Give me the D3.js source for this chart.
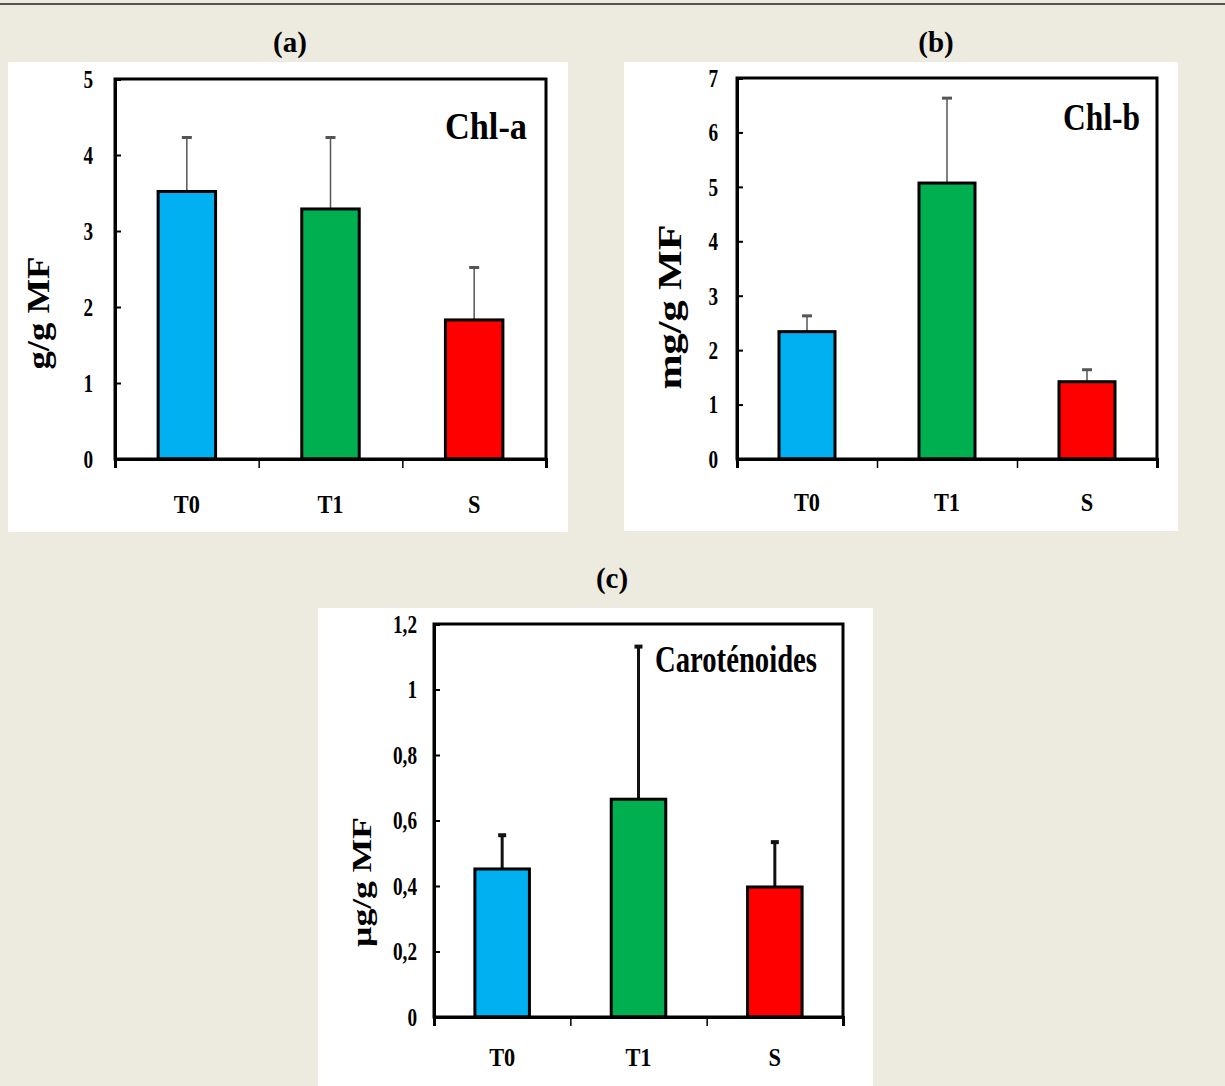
<!DOCTYPE html>
<html>
<head>
<meta charset="utf-8">
<script src="https://cdn.jsdelivr.net/npm/d3@7"></script>
<style>
  html, body { margin: 0; padding: 0; background: #edeae0; }
  svg { display: block; }
  text { font-family: "Liberation Serif", "Times New Roman", serif; font-weight: bold; fill: #000; }
</style>
</head>
<body>
<svg id="chart" width="1225" height="1086"></svg>
<script>
// ---------- data ----------
const categories = ["T0", "T1", "S"];
const barColors = ["#00b0f0", "#00b050", "#ff0000"];

const chlAValues = [3.52, 3.29, 1.83];
const chlAErrors = [0.71, 0.94, 0.69];
const chlATicks = [0, 1, 2, 3, 4, 5];
const chlATickLabels = ["0", "1", "2", "3", "4", "5"];

const chlBValues = [2.34, 5.07, 1.42];
const chlBErrors = [0.29, 1.56, 0.22];
const chlBTicks = [0, 1, 2, 3, 4, 5, 6, 7];
const chlBTickLabels = ["0", "1", "2", "3", "4", "5", "6", "7"];

const carValues = [0.452, 0.665, 0.397];
const carErrors = [0.103, 0.466, 0.137];
const carTicks = [0, 0.2, 0.4, 0.6, 0.8, 1.0, 1.2];
const carTickLabels = ["0", "0,2", "0,4", "0,6", "0,8", "1", "1,2"];

const panelHeaders = ["(a)", "(b)", "(c)"];
const panelTitles = ["Chl-a", "Chl-b", "Caroténoides"];
const yLabels = ["g/g MF", "mg/g MF", "µg/g  MF"];

// ---------- layout ----------
const svg = d3.select("#chart");
svg.append("rect").attr("x", 0).attr("y", 0).attr("width", 1225).attr("height", 1086).attr("fill", "#edeae0");
svg.append("line").attr("x1", 0).attr("x2", 1225).attr("y1", 4).attr("y2", 4)
   .attr("stroke", "#222").attr("stroke-width", 1.5);

const panels = [
  { header: panelHeaders[0], hx: 290, hy: 52,
    box: { x: 8, y: 62, w: 560, h: 470 },
    plot: { l: 115, t: 79, r: 546, b: 459 },
    values: chlAValues, errors: chlAErrors, ticks: chlATicks, tickLabels: chlATickLabels, ymax: 5,
    title: panelTitles[0], tx: 527, ty: 139, tlen: 82, tsize: 38,
    ylabel: yLabels[0], ylx: 38, yly: 313, ylsize: 31, yllen: 113,
    tickGap: 22, catOffset: 54,
    err: { color: "#555", width: 1.5, cap: 10, capW: 3 } },
  { header: panelHeaders[1], hx: 936, hy: 52,
    box: { x: 624, y: 62, w: 554, h: 469 },
    plot: { l: 737, t: 78, r: 1157, b: 459 },
    values: chlBValues, errors: chlBErrors, ticks: chlBTicks, tickLabels: chlBTickLabels, ymax: 7,
    title: panelTitles[1], tx: 1140, ty: 130, tlen: 77, tsize: 38,
    ylabel: yLabels[1], ylx: 670, yly: 307, ylsize: 33, yllen: 165,
    tickGap: 19, catOffset: 52,
    err: { color: "#555", width: 1.5, cap: 10, capW: 3 } },
  { header: panelHeaders[2], hx: 612, hy: 588,
    box: { x: 318, y: 608, w: 555, h: 478 },
    plot: { l: 434, t: 624, r: 843, b: 1017 },
    values: carValues, errors: carErrors, ticks: carTicks, tickLabels: carTickLabels, ymax: 1.2,
    title: panelTitles[2], tx: 817, ty: 672, tlen: 162, tsize: 38,
    ylabel: yLabels[2], ylx: 362, yly: 882, ylsize: 27, yllen: 130,
    tickGap: 17, catOffset: 49,
    err: { color: "#111", width: 3, cap: 8, capW: 4 } }
];

const SX = 0.74;   // horizontal squeeze of the stretched figure text

panels.forEach(p => {
  // header
  svg.append("text").attr("x", p.hx).attr("y", p.hy).attr("text-anchor", "middle")
     .attr("font-size", 29).text(p.header);

  // white panel box
  svg.append("rect").attr("x", p.box.x).attr("y", p.box.y).attr("width", p.box.w).attr("height", p.box.h)
     .attr("fill", "#ffffff");

  const g = svg.append("g");
  const x = d3.scaleBand().domain(categories).range([p.plot.l, p.plot.r]).paddingInner(0.6).paddingOuter(0.3);
  const xb = d3.scaleLinear().domain([0, categories.length]).range([p.plot.l, p.plot.r]);
  const y = d3.scaleLinear().domain([0, p.ymax]).range([p.plot.b, p.plot.t]);

  // error bars (upper only)
  const eg = g.append("g");
  categories.forEach((c, i) => {
    const cx = x(c) + x.bandwidth() / 2;
    const top = y(p.values[i] + p.errors[i]);
    eg.append("line").attr("x1", cx).attr("x2", cx).attr("y1", y(p.values[i])).attr("y2", top)
      .attr("stroke", p.err.color).attr("stroke-width", p.err.width);
    eg.append("line").attr("x1", cx - p.err.cap / 2).attr("x2", cx + p.err.cap / 2).attr("y1", top).attr("y2", top)
      .attr("stroke", p.err.color).attr("stroke-width", p.err.capW);
  });

  // bars
  g.append("g").selectAll("rect").data(categories).join("rect")
    .attr("x", d => x(d)).attr("width", x.bandwidth())
    .attr("y", (d, i) => y(p.values[i])).attr("height", (d, i) => y(0) - y(p.values[i]))
    .attr("fill", (d, i) => barColors[i]).attr("stroke", "#000").attr("stroke-width", 3);

  // frame
  g.append("rect").attr("x", p.plot.l).attr("y", p.plot.t)
    .attr("width", p.plot.r - p.plot.l).attr("height", p.plot.b - p.plot.t)
    .attr("fill", "none").attr("stroke", "#000").attr("stroke-width", 3);

  // y axis
  const ya = g.append("g").attr("transform", `translate(${p.plot.l},0)`)
    .call(d3.axisLeft(y).tickValues(p.ticks).tickSize(-6).tickPadding(0)
          .tickFormat((d, i) => p.tickLabels[i]));
  ya.select(".domain").attr("stroke-width", 3);
  ya.selectAll(".tick line").attr("stroke-width", 2);
  ya.selectAll(".tick text")
    .attr("font-size", 26).attr("font-family", "Liberation Serif, serif").attr("font-weight", "bold")
    .attr("text-anchor", "end")
    .attr("x", -p.tickGap / SX).attr("transform", `scale(${SX},1)`);

  // x axis boundary ticks
  const xa = g.append("g").attr("transform", `translate(0,${p.plot.b})`)
    .call(d3.axisBottom(xb).tickValues(d3.range(categories.length + 1)).tickSize(9).tickFormat(""));
  xa.select(".domain").attr("stroke-width", 3);
  xa.selectAll(".tick line").attr("stroke-width", 1.5);

  // x category labels
  const xl = g.append("g").attr("transform", `translate(0,${p.plot.b})`)
    .call(d3.axisBottom(x).tickSize(0));
  xl.select(".domain").remove();
  xl.selectAll(".tick text")
    .attr("font-size", 26).attr("font-family", "Liberation Serif, serif").attr("font-weight", "bold")
    .attr("y", p.catOffset).attr("dy", 0).attr("transform", `scale(0.86,1)`)
    .each(function () {
      const t = d3.select(this.parentNode).attr("transform");
      const tx = +t.match(/translate\(([-\d.]+)/)[1];
      d3.select(this.parentNode).attr("transform", `translate(${tx},0)`);
    });

  // in-plot title
  svg.append("text").attr("x", p.tx).attr("y", p.ty).attr("text-anchor", "end")
     .attr("font-size", p.tsize).attr("textLength", p.tlen).attr("lengthAdjust", "spacingAndGlyphs")
     .text(p.title);

  // y label
  svg.append("text").attr("transform", `translate(${p.ylx},${p.yly}) rotate(-90)`)
     .attr("text-anchor", "middle").attr("dominant-baseline", "central")
     .attr("font-size", p.ylsize).attr("textLength", p.yllen).attr("lengthAdjust", "spacingAndGlyphs")
     .text(p.ylabel);
});
</script>
</body>
</html>
